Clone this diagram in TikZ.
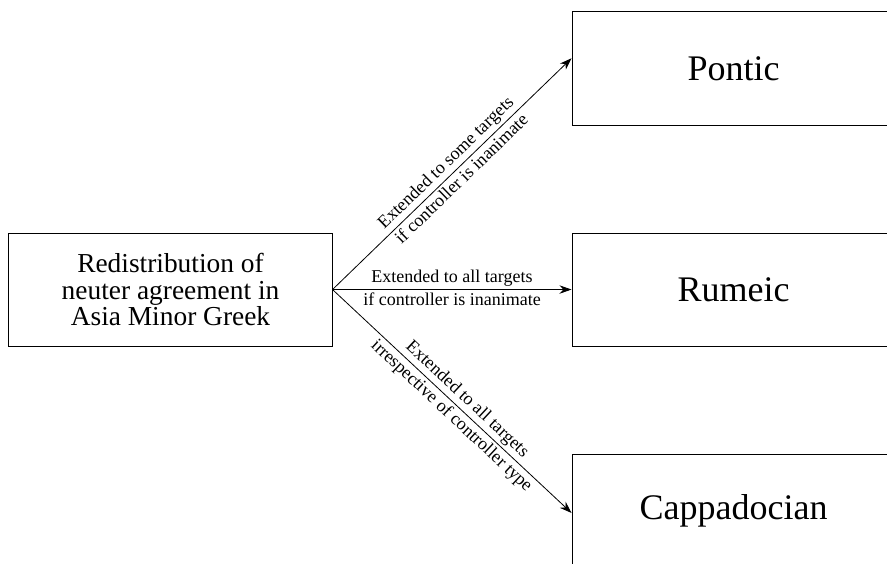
\documentclass[tikz,border=0pt]{standalone}
\usepackage{fontspec}
\setmainfont{Liberation Serif}
\usetikzlibrary{arrows.meta}

\newcommand{\lblfont}{\fontsize{9}{10}\selectfont}
\newcommand{\srcfont}{\fontsize{13.7}{13.2}\selectfont}
\newcommand{\langfont}{\fontsize{18}{21}\selectfont}

\tikzset{
  langbox/.style={draw, minimum width=5.68cm, minimum height=1.99cm, inner sep=0pt},
  spread/.style={-{Stealth[length=6pt,width=4.2pt]}},
  toplbl/.style={sloped, above, inner sep=1.4pt, font=\lblfont},
  botlbl/.style={sloped, below, inner sep=1.4pt, font=\lblfont}
}

\begin{document}
\begin{tikzpicture}
\useasboundingbox (0,0) rectangle (15.587,9.894);
\clip (0,0) rectangle (15.587,9.894);

% source
\node[langbox, align=center, font=\srcfont] (amg) at (2.996,4.806)
  {Redistribution of\\neuter agreement in\\Asia Minor Greek};

% dialects
\node[langbox, font=\langfont] (pontic) at (12.89,8.69) {Pontic};
\node[langbox, font=\langfont] (rumeic) at (12.89,4.806) {Rumeic};
\node[langbox, font=\langfont] (cappa) at (12.89,0.92) {Cappadocian};

\draw[spread] (amg.east) -- ([yshift=0.18cm]pontic.west)
  node[toplbl, pos=0.51] {Extended to some targets}
  node[botlbl, pos=0.51] {if controller is inanimate};
\draw[spread] (amg.east) -- (rumeic.west)
  node[toplbl, pos=0.5] {Extended to all targets}
  node[botlbl, pos=0.5] {if controller is inanimate};
\draw[spread] (amg.east) -- ([yshift=-0.04cm]cappa.west)
  node[toplbl, pos=0.53] {Extended to all targets}
  node[botlbl, pos=0.53] {irrespective of controller type};

\end{tikzpicture}
\end{document}
